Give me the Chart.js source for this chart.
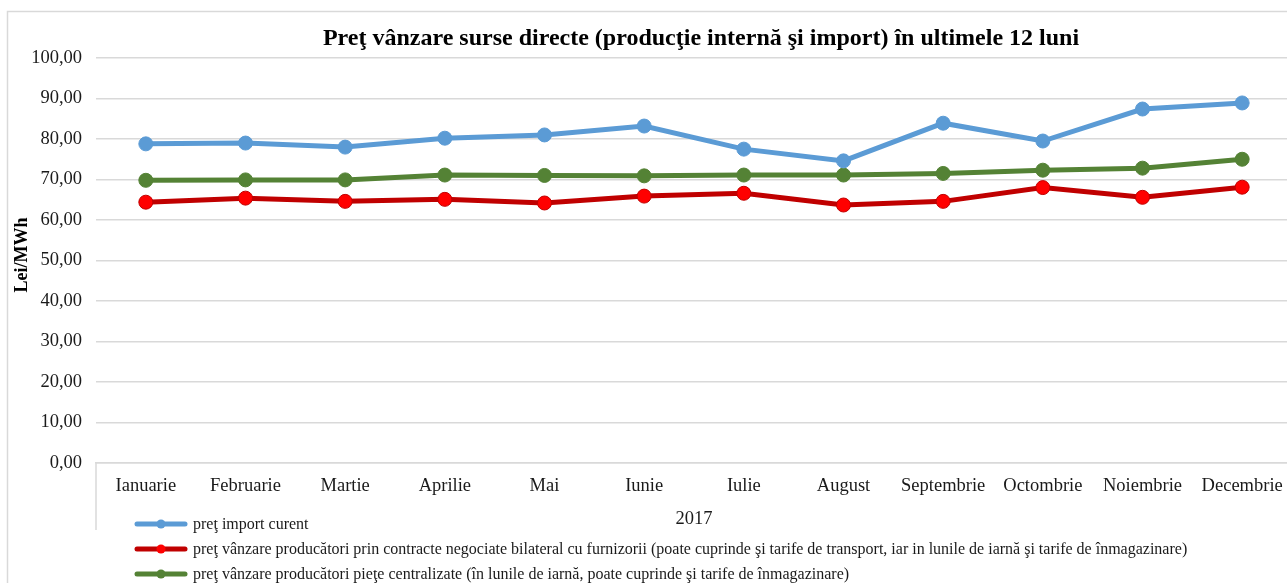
<!DOCTYPE html>
<html lang="ro">
<head>
<meta charset="UTF-8">
<title>Preţ vânzare surse directe</title>
<script src="https://cdn.jsdelivr.net/npm/chart.js"></script>
<style>
  html, body { margin: 0; padding: 0; background: #fff; overflow: hidden; }
  #wrap { width: 1300px; height: 583px; position: relative; }
</style>
</head>
<body>
<div id="wrap"><canvas id="chart" width="1300" height="583"></canvas></div>
<script>
const months = ["Ianuarie", "Februarie", "Martie", "Aprilie", "Mai", "Iunie", "Iulie", "August", "Septembrie", "Octombrie", "Noiembrie", "Decembrie"];
const importPrice = [78.8, 79.0, 78.0, 80.2, 81.0, 83.2, 77.5, 74.6, 83.9, 79.5, 87.4, 88.9];
const bilateralPrice = [64.4, 65.4, 64.6, 65.1, 64.2, 65.9, 66.6, 63.7, 64.6, 68.0, 65.6, 68.1];
const centralPrice = [69.8, 69.9, 69.9, 71.1, 71.0, 70.9, 71.1, 71.1, 71.5, 72.3, 72.8, 75.0];
const seriesNames = [
  "preţ import curent",
  "preţ vânzare producători prin contracte negociate bilateral cu furnizorii (poate cuprinde şi tarife de transport, iar in lunile de iarnă şi tarife de înmagazinare)",
  "preţ vânzare producători pieţe centralizate (în lunile de iarnă, poate cuprinde şi tarife de înmagazinare)"
];
const chartTitle = "Preţ vânzare surse directe (producţie internă şi import) în ultimele 12 luni";
const yAxisLabel = "Lei/MWh";
const xAxisLabel = "2017";

const serif = '"Liberation Serif", "Times New Roman", serif';
const textColor = "#1a1a1a";
const gridColor = "#d9d9d9";

// extra text, frame and the legend are painted by hand
const decor = {
  id: "decor",
  afterDraw(chart) {
    const ctx = chart.ctx;
    const area = chart.chartArea;
    ctx.save();

    ctx.strokeStyle = gridColor;
    ctx.lineWidth = 1.5;
    ctx.strokeRect(7.5, 11.5, 2000, 2000);

    ctx.beginPath();
    ctx.moveTo(area.left, area.bottom);
    ctx.lineTo(area.left, area.bottom + 67);
    ctx.stroke();

    ctx.fillStyle = "#000";
    ctx.textAlign = "center";
    ctx.textBaseline = "middle";
    ctx.font = "bold 24px " + serif;
    ctx.fillText(chartTitle, 701, 39);

    ctx.fillStyle = textColor;
    ctx.font = "18.5px " + serif;
    ctx.fillText(xAxisLabel, (area.left + area.right) / 2, 519);

    ctx.save();
    ctx.translate(22, 255);
    ctx.rotate(-Math.PI / 2);
    ctx.fillStyle = "#000";
    ctx.font = "bold 18px " + serif;
    ctx.fillText(yAxisLabel, 0, 0);
    ctx.restore();

    ctx.textAlign = "left";
    ctx.font = "16px " + serif;
    chart.data.datasets.forEach((ds, i) => {
      const y = 524 + i * 25;
      ctx.strokeStyle = ds.borderColor;
      ctx.lineWidth = 5;
      ctx.lineCap = "round";
      ctx.beginPath();
      ctx.moveTo(137, y);
      ctx.lineTo(185, y);
      ctx.stroke();
      ctx.fillStyle = ds.pointBackgroundColor;
      ctx.beginPath();
      ctx.arc(161, y, 4.5, 0, Math.PI * 2);
      ctx.fill();
      ctx.fillStyle = textColor;
      ctx.fillText(ds.label, 193, y + 1);
    });
    ctx.restore();
  }
};

new Chart(document.getElementById("chart"), {
  type: "line",
  data: {
    labels: months,
    datasets: [
      {
        label: seriesNames[0],
        data: importPrice,
        borderColor: "#5b9bd5",
        pointBackgroundColor: "#5b9bd5",
        pointBorderColor: "#5b9bd5"
      },
      {
        label: seriesNames[1],
        data: bilateralPrice,
        borderColor: "#c00000",
        pointBackgroundColor: "#ff0000",
        pointBorderColor: "#c00000"
      },
      {
        label: seriesNames[2],
        data: centralPrice,
        borderColor: "#548235",
        pointBackgroundColor: "#548235",
        pointBorderColor: "#548235"
      }
    ].map(ds => Object.assign(ds, {
      borderWidth: 5,
      pointRadius: 7,
      pointBorderWidth: 1,
      tension: 0,
      fill: false
    }))
  },
  options: {
    responsive: false,
    animation: false,
    devicePixelRatio: 1,
    layout: { padding: { left: 0, right: 8, top: 58, bottom: 0 } },
    plugins: {
      legend: { display: false },
      title: { display: false },
      tooltip: { enabled: false }
    },
    scales: {
      x: {
        offset: true,
        grid: { display: false, drawTicks: false },
        border: { color: gridColor, width: 1.5 },
        ticks: {
          color: textColor,
          font: { family: serif, size: 18.5 },
          padding: 12,
          maxRotation: 0,
          autoSkip: false
        },
        afterFit(scale) { scale.height = 120; }
      },
      y: {
        min: 0,
        max: 100,
        grid: { color: gridColor, lineWidth: 1.5, drawTicks: false },
        border: { display: false },
        ticks: {
          stepSize: 10,
          color: textColor,
          font: { family: serif, size: 18.5 },
          padding: 14,
          callback: v => v.toFixed(2).replace(".", ",")
        },
        afterFit(scale) { scale.width = 96; }
      }
    }
  },
  plugins: [decor]
});
</script>
</body>
</html>
